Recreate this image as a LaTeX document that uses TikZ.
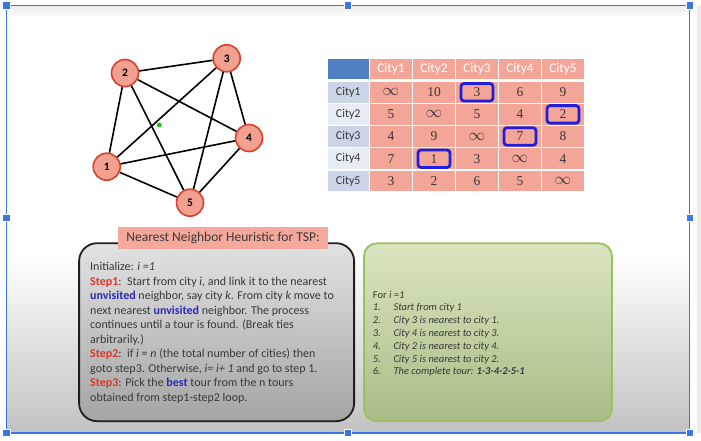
\documentclass[tikz,border=0pt]{standalone}
\usepackage{fontspec}
\setmainfont{Carlito}
\newfontfamily\numfont{Liberation Serif}
\newcommand{\myinf}{\scalebox{1.15}{$\infty$}}
\definecolor{framecol}{HTML}{3A76E4}
\definecolor{nodefill}{HTML}{F2A090}
\definecolor{nodeline}{HTML}{D8402C}
\definecolor{salmon}{HTML}{F3A597}
\definecolor{hdrblue}{HTML}{4F7FC0}
\definecolor{rowa}{HTML}{CCD5E7}
\definecolor{rowb}{HTML}{E8ECF4}
\definecolor{pickblue}{HTML}{1E1EDC}
\definecolor{txt}{HTML}{383838}
\definecolor{stepred}{HTML}{E0352A}
\definecolor{visblue}{HTML}{2A2AB8}
\definecolor{greenline}{HTML}{9DBE60}
\definecolor{greentop}{HTML}{DAE6C0}
\definecolor{greenbot}{HTML}{A8BC86}
\definecolor{greytop}{HTML}{E2E2E2}
\definecolor{greybot}{HTML}{A4A4A4}
\definecolor{labelfill}{HTML}{F4A99C}
\definecolor{dotgreen}{HTML}{2DBB2D}
\begin{document}
\begin{tikzpicture}[x=1pt,y=-1pt,
  city/.style={circle,draw=nodeline,line width=1.6pt,fill=nodefill,minimum size=27pt,inner sep=0pt,font=\bfseries\fontsize{11.5}{11.5}\selectfont},
  edge/.style={black,line width=1.6pt},
  handle/.style={fill=framecol,draw=white,line width=0.6pt,minimum size=7.5pt,inner sep=0pt},
  cell/.style={minimum width=41.5pt,minimum height=20.5pt,inner sep=0pt,fill=salmon,text=txt,font=\numfont\fontsize{13.5}{13.5}\selectfont},
  hcell/.style={cell,font=\fontsize{13.3}{13.3}\selectfont,text=white},
  rcell/.style={cell,font=\fontsize{12}{12}\selectfont,text=txt},
  pick/.style={draw=pickblue,line width=2.8pt,rounded corners=3pt,minimum width=32pt,minimum height=17.5pt,inner sep=0pt},
  ltext/.style={anchor=base west,inner sep=0pt,text=txt,font=\fontsize{12}{14.5}\selectfont},
  rtext/.style={anchor=base west,inner sep=0pt,text=txt,font=\itshape\fontsize{10.5}{12.8}\selectfont}
]
\useasboundingbox (0,0) rectangle (701,441);
\fill[white] (0,0) rectangle (701,441);
% background inside frame
\shade[top color=white,bottom color=black!24] (7,255) rectangle (690,433);
\shade[top color=black!7,bottom color=white] (7,6) rectangle (690,18);
\fill[black!8] (697,6) rectangle (701,433);
% frame
\draw[framecol,line width=1.5pt] (6.5,5.5) rectangle (689.7,432.8);
\node[handle] (h1) at (6.5,5.5) {};
\node[handle] (h2) at (348,5.5) {};
\node[handle] (h3) at (689.7,5.5) {};
\node[handle] (h4) at (6.5,218) {};
\node[handle] (h5) at (689.7,218) {};
\node[handle] (h6) at (6.5,432.8) {};
\node[handle] (h7) at (348,432.8) {};
\node[handle] (h8) at (689.7,432.8) {};

% graph
\node[city] (n1) at (106.7,166.7) {1};
\node[city] (n2) at (125,73) {2};
\node[city] (n3) at (226.7,58.3) {3};
\node[city] (n4) at (249,138) {4};
\node[city] (n5) at (190,202.7) {5};
\foreach \a/\b in {n1/n2,n2/n3,n3/n4,n4/n5,n5/n1,n1/n3,n1/n4,n2/n4,n2/n5,n3/n5}
  \draw[edge] (\a) -- (\b);
\node[circle,fill=dotgreen,minimum size=5pt,inner sep=0pt] (gdot) at (159.3,125) {};

% table
\node[cell,fill=hdrblue,minimum width=41pt] (t00) at (348.2,69) {};
\foreach \c/\x in {1/391,2/434,3/477,4/520,5/563}
  \node[hcell] (t0\c) at (\x,69) {City\c};
\foreach \r/\y/\f in {1/92.3/rowa,2/114.4/rowb,3/136.5/rowa,4/158.7/rowb,5/180.9/rowa}
  \node[rcell,fill=\f,minimum width=41pt] (t\r0) at (348.2,\y) {City\r};
\foreach \r/\y/\la/\lb/\lc/\ld/\le in {%
  1/92.3/\myinf/10/3/6/9,
  2/114.4/5/\myinf/5/4/2,
  3/136.5/4/9/\myinf/7/8,
  4/158.7/7/1/3/\myinf/4,
  5/180.9/3/2/6/5/\myinf}{
  \node[cell] (t\r1) at (391,\y) {\la};
  \node[cell] (t\r2) at (434,\y) {\lb};
  \node[cell] (t\r3) at (477,\y) {\lc};
  \node[cell] (t\r4) at (520,\y) {\ld};
  \node[cell] (t\r5) at (563,\y) {\le};
}
\node[pick] (p1) at (t13) {};
\node[pick] (p2) at (t25) {};
\node[pick] (p3) at (t34) {};
\node[pick] (p4) at (t42) {};

% left box
\node[draw=black!88,line width=1.8pt,rounded corners=18pt,top color=greytop,bottom color=greybot,minimum width=275pt,minimum height=178pt,inner sep=0pt] (lbox) at (216.6,332.2) {};
\node[fill=labelfill,minimum width=210pt,minimum height=22pt,inner sep=0pt,text=txt,font=\fontsize{13.5}{13.5}\selectfont] (title) at (223,238) {Nearest Neighbor Heuristic for TSP:};

\node[ltext] (l1) at (90,270.5) {Initialize: \textit{i =1}};
\node[ltext] (l2) at (90,285) {\textcolor{stepred}{\textbf{Step1}}:\ \ Start from city \textit{i}, and link it to the nearest};
\node[ltext] (l3) at (90,299.5) {\textcolor{visblue}{\textbf{unvisited}} neighbor, say city \textit{k}. From city \textit{k} move to};
\node[ltext] (l4) at (90,314) {next nearest \textcolor{visblue}{\textbf{unvisited}} neighbor. The process};
\node[ltext] (l5) at (90,328.5) {continues until a tour is found. (Break ties};
\node[ltext] (l6) at (90,343) {arbitrarily.)};
\node[ltext] (l7) at (90,357.5) {\textcolor{stepred}{\textbf{Step2}}:\ \ if \textit{i} = \textit{n} (the total number of cities) then};
\node[ltext] (l8) at (90,372) {goto step3. Otherwise, \textit{i= i+ 1} and go to step 1.};
\node[ltext] (l9) at (90,386.5) {\textcolor{stepred}{\textbf{Step3}}: Pick the \textcolor{visblue}{\textbf{best}} tour from the n tours};
\node[ltext] (l10) at (90,401) {obtained from step1-step2 loop.};

% right box
\node[draw=greenline,line width=1.8pt,rounded corners=13pt,top color=greentop,bottom color=greenbot,minimum width=248pt,minimum height=178pt,inner sep=0pt] (rbox) at (488,332.3) {};
\node[rtext,font=\fontsize{10.5}{12.8}\selectfont] (r0) at (372.7,298) {For \textit{i =1}};
\foreach \k/\y/\t in {1/310.8/Start from city 1,2/323.6/City 3 is nearest to city 1.,3/336.4/City 4 is nearest to city 3.,4/349.2/City 2 is nearest to city 4.,5/362/City 5 is nearest to city 2.}{
  \node[rtext] (rn\k) at (372.7,\y) {\k.};
  \node[rtext] (r\k) at (393.3,\y) {\t};
}
\node[rtext] (rn6) at (372.7,374.8) {6.};
\node[rtext] (r6) at (393.3,374.8) {The complete tour: \textbf{1-3-4-2-5-1}};
\end{tikzpicture}
\end{document}
